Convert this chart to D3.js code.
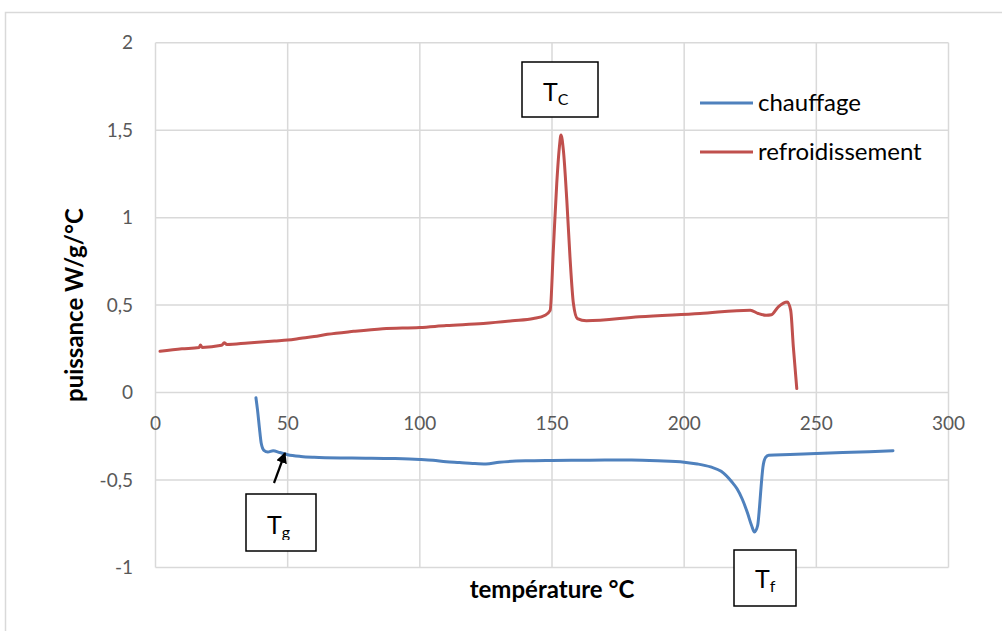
<!DOCTYPE html>
<html>
<head>
<meta charset="utf-8">
<script src="https://cdn.jsdelivr.net/npm/d3@7"></script>
<style>
  body { margin: 0; background: #fff; }
  text { font-family: Lato, "Open Sans", sans-serif; }
</style>
</head>
<body>
<div id="chart-area"></div>
<script>
// heating curve (chauffage)
const heatT = [38, 38.6, 39.3, 40, 41, 42.5, 44.5, 47, 50, 55, 60, 70, 80, 90, 100, 105, 110, 115, 120, 125,
    130, 140, 150, 160, 170, 180, 190, 200, 205, 210, 214, 218, 220, 222, 224, 225.5, 226.6, 227.8, 228.5, 229.2,
    229.8, 230.8, 232, 240, 250, 260, 270, 279]
const heatP = [-0.03, -0.1, -0.2, -0.29, -0.33, -0.34, -0.333, -0.343, -0.355, -0.365, -0.37, -0.374, -0.375,
    -0.377, -0.382, -0.387, -0.396, -0.4, -0.405, -0.408, -0.398, -0.39, -0.388, -0.387, -0.386, -0.386, -0.39,
    -0.398, -0.408, -0.425, -0.45, -0.51, -0.55, -0.61, -0.69, -0.76, -0.797, -0.76, -0.655, -0.52, -0.426, -0.37,
    -0.358, -0.354, -0.348, -0.343, -0.338, -0.333]

// cooling curve (refroidissement)
const coolT = [1.7, 10, 16.5, 17, 17.6, 25, 26, 27, 35, 45, 50, 55, 60, 65, 75, 86, 100, 110, 124, 135, 143,
    147.4, 149.3, 150.5, 151.8, 152.8, 153.4, 154.3, 155.6, 156.8, 158.1, 159.6, 163, 183, 206, 225, 228, 231,
    233, 235.6, 239, 240.3, 241.3, 242.6]
const coolP = [0.236, 0.25, 0.258, 0.272, 0.258, 0.27, 0.285, 0.275, 0.284, 0.295, 0.3, 0.31, 0.32, 0.333,
    0.35, 0.365, 0.372, 0.383, 0.395, 0.41, 0.423, 0.442, 0.47, 0.814, 1.196, 1.405, 1.472, 1.386, 1.10, 0.776,
    0.509, 0.423, 0.41, 0.433, 0.452, 0.471, 0.452, 0.442, 0.445, 0.49, 0.518, 0.47, 0.261, 0.023]

const xTicks = [0, 50, 100, 150, 200, 250, 300]
const yTicks = [-1, -0.5, 0, 0.5, 1, 1.5, 2]
const seriesNames = ["chauffage", "refroidissement"]
const colors = ["#4f81bd", "#c0504d"]

const W = 1002, H = 631
const svg = d3.select("#chart-area").append("svg")
    .attr("width", W)
    .attr("height", H)

// outer chart frame
svg.append("rect")
    .attr("x", 5.5).attr("y", 12.5)
    .attr("width", 1010).attr("height", 640)
    .attr("fill", "#fff")
    .attr("stroke", "#d9d9d9")
    .attr("stroke-width", 1.5)

const x = d3.scaleLinear().domain([0, 300]).range([155.5, 948.5])
const y = d3.scaleLinear().domain([-1, 2]).range([567.5, 42.7])

// grid
svg.append("g").selectAll("line").data(yTicks).join("line")
    .attr("x1", x(0)).attr("x2", x(300))
    .attr("y1", d => y(d)).attr("y2", d => y(d))
    .attr("stroke", "#d9d9d9").attr("stroke-width", 1.5)
svg.append("g").selectAll("line").data(xTicks).join("line")
    .attr("x1", d => x(d)).attr("x2", d => x(d))
    .attr("y1", y(2)).attr("y2", y(-1))
    .attr("stroke", "#d9d9d9").attr("stroke-width", 1.5)

// tick labels
svg.append("g").selectAll("text").data(yTicks).join("text")
    .attr("x", 133)
    .attr("y", d => y(d))
    .attr("dy", "0.35em")
    .attr("text-anchor", "end")
    .attr("font-size", "19px")
    .attr("fill", "#595959")
    .text(d => String(d).replace(".", ","))
svg.append("g").selectAll("text").data(xTicks).join("text")
    .attr("x", d => x(d))
    .attr("y", y(0) + 31)
    .attr("dy", "0.35em")
    .attr("text-anchor", "middle")
    .attr("font-size", "19px")
    .attr("fill", "#595959")
    .text(d => d)

// axis titles
svg.append("text")
    .attr("x", (x(0) + x(300)) / 2)
    .attr("y", 598)
    .attr("text-anchor", "middle")
    .attr("font-size", "24px")
    .attr("font-weight", "700")
    .text("température °C")
svg.append("text")
    .attr("transform", `translate(83, ${(y(2) + y(-1)) / 2}) rotate(-90)`)
    .attr("text-anchor", "middle")
    .attr("font-size", "24px")
    .attr("font-weight", "700")
    .text("puissance W/g/°C")

// curves
const line = d3.line()
    .x(d => x(d[0]))
    .y(d => y(d[1]))
    .curve(d3.curveMonotoneX)

const series = [d3.zip(heatT, heatP), d3.zip(coolT, coolP)]
svg.append("g").selectAll("path").data(series).join("path")
    .attr("d", line)
    .attr("fill", "none")
    .attr("stroke", (d, i) => colors[i])
    .attr("stroke-width", 3)
    .attr("stroke-linejoin", "round")
    .attr("stroke-linecap", "round")

// legend
const legend = svg.append("g").selectAll("g").data(seriesNames).join("g")
    .attr("transform", (d, i) => `translate(700, ${103 + i * 49})`)
legend.append("line")
    .attr("x1", 0).attr("x2", 53)
    .attr("stroke", (d, i) => colors[i])
    .attr("stroke-width", 3)
legend.append("text")
    .attr("x", 58)
    .attr("dy", "0.35em")
    .attr("font-size", "24px")
    .text(d => d)

// annotation boxes
const notes = [
    {sub: "C", x: 522, y: 62, w: 76, h: 55, tx: 543, ty: 101, clip: false},
    {sub: "g", x: 246, y: 494, w: 70, h: 57, tx: 267, ty: 534, clip: true},
    {sub: "f", x: 734, y: 550, w: 62, h: 56, tx: 755, ty: 588, clip: false}
]
const defs = svg.append("defs")
defs.append("clipPath").attr("id", "clipTg")
    .append("rect").attr("x", 246).attr("y", 494).attr("width", 70).attr("height", 46)

notes.forEach(n => {
    svg.append("rect")
        .attr("x", n.x).attr("y", n.y)
        .attr("width", n.w).attr("height", n.h)
        .attr("fill", "#fff")
        .attr("stroke", "#000")
        .attr("stroke-width", 1.5)
    const t = svg.append("text")
        .attr("x", n.tx).attr("y", n.ty)
        .attr("font-size", "25px")
        .attr("fill", "#000")
    if (n.clip) t.attr("clip-path", "url(#clipTg)")
    t.append("tspan").text("T")
    t.append("tspan").attr("dy", 4).attr("font-size", "16px").text(n.sub)
})

// arrow pointing to Tg
defs.append("marker")
    .attr("id", "arrow")
    .attr("viewBox", "0 0 10 10")
    .attr("refX", 9).attr("refY", 5)
    .attr("markerWidth", 5).attr("markerHeight", 5)
    .attr("orient", "auto")
    .append("path").attr("d", "M0,0 L10,5 L0,10 z").attr("fill", "#000")
svg.append("line")
    .attr("x1", 274).attr("y1", 483)
    .attr("x2", 285).attr("y2", 453)
    .attr("stroke", "#000")
    .attr("stroke-width", 2.2)
    .attr("marker-end", "url(#arrow)")
</script>
</body>
</html>
